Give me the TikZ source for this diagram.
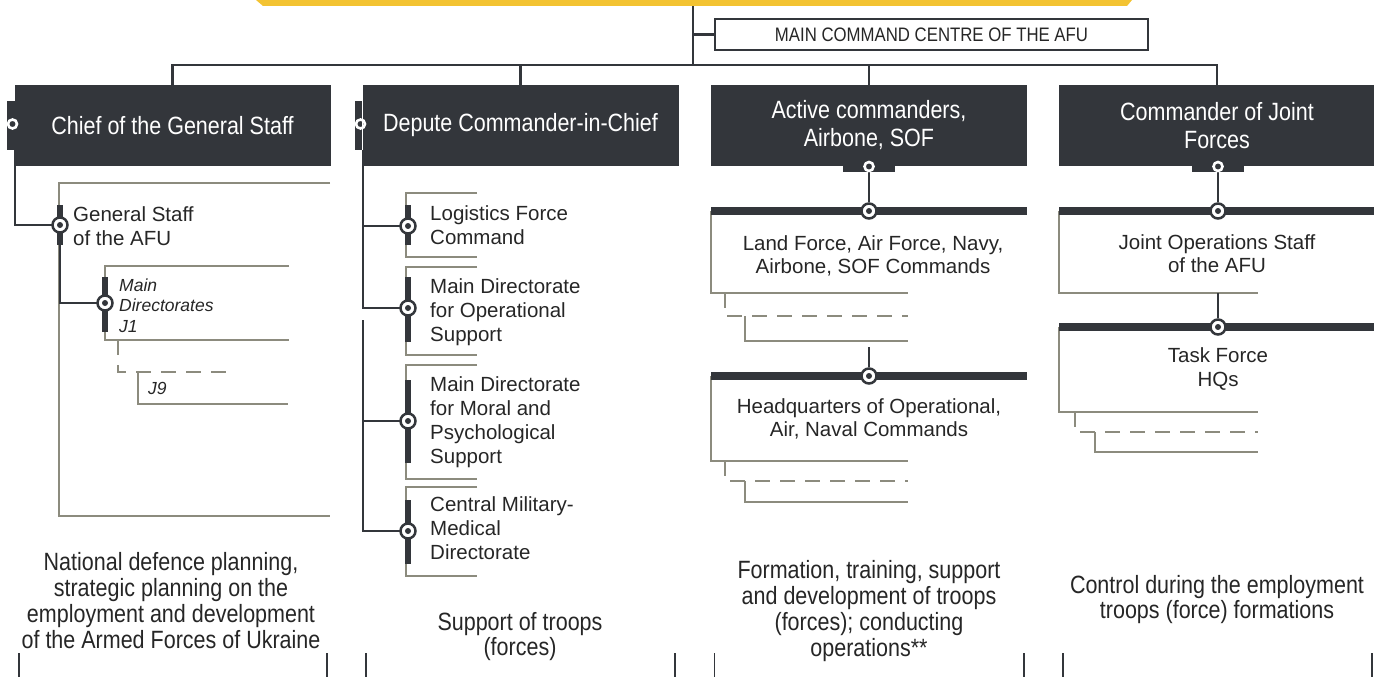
\documentclass[tikz,border=0pt]{standalone}
\usepackage{fontspec}
\setmainfont{Liberation Sans}
\newfontfamily\condfont[FakeStretch=0.86]{Liberation Sans}
\usetikzlibrary{backgrounds}

\definecolor{darkbox}{HTML}{33363B}
\definecolor{linegray}{HTML}{8C8B7E}
\definecolor{baryellow}{HTML}{F3C332}
\definecolor{txt}{HTML}{262626}

\tikzset{
  head/.style={rectangle, fill=darkbox, text=white, minimum width=316pt, minimum height=81pt,
    inner sep=0pt, align=center, font=\condfont\fontsize{25}{28}\selectfont},
  ccbox/.style={rectangle, draw=darkbox, line width=2pt, fill=white, minimum width=433pt,
    minimum height=31pt, inner sep=0pt, text=txt, font=\condfont\fontsize{19.5}{21}\selectfont},
  hring/.style={circle, draw=white, line width=2.6pt, minimum size=9pt, inner sep=0pt},
  tgt/.style={circle, draw=darkbox, fill=white, line width=2.5pt, minimum size=15pt, inner sep=0pt,
    path picture={\fill[darkbox] (path picture bounding box.center) circle (3pt);}},
  unit/.style={anchor=west, align=left, inner sep=0pt, text=txt, font=\fontsize{20.5}{24}\selectfont},
  subunit/.style={anchor=west, align=left, inner sep=0pt, text=txt, font=\itshape\fontsize{17.5}{20.5}\selectfont},
  cunit/.style={align=center, inner sep=0pt, text=txt, font=\fontsize{20.5}{23}\selectfont},
  desc/.style={align=center, inner sep=0pt, text=txt, font=\condfont\fontsize{25}{26}\selectfont},
  link/.style={draw=darkbox, line width=2.3pt},
  bracket/.style={draw=linegray, line width=2.4pt},
  dashbracket/.style={draw=linegray, line width=2.4pt, dash pattern=on 15pt off 10pt},
  vbar/.style={draw=darkbox, line width=6.5pt},
  hbar/.style={draw=darkbox, line width=8pt},
  tick/.style={draw=darkbox, line width=1.5pt}
}

\begin{document}
\begin{tikzpicture}[x=1pt, y=-1pt]
  \useasboundingbox (0,0) rectangle (1374,677);

  % banner and command centre
  \fill[baryellow] (256,0) -- (1132,0) -- (1127,6) -- (263,6) -- cycle;
  \coordinate (trunk) at (693,6);
  \coordinate (hub)   at (693,65);
  \node[ccbox] (mcc) at (931.5,34.5) {MAIN COMMAND CENTRE OF THE AFU};

  % heads
  \fill[darkbox] (7,101) rectangle (15,150);
  \fill[darkbox] (355,101) rectangle (362,150);
  \fill[darkbox] (843,166) rectangle (895,172);
  \fill[darkbox] (1192,166) rectangle (1244,172);
  \node[head] (chief)  at (172.5,125.5) {Chief of the General Staff};
  \node[head] (deputy) at (520.5,125.5) {Depute Commander-in-Chief};
  \node[head] (active) at (869,125.5)   {Active commanders,\\Airbone, SOF};
  \node[head] (joint)  at (1217,125.5)  {Commander of Joint\\Forces};
  \node[hring] (chiefr)  at (12.5,124)  {};
  \node[hring] (deputyr) at (360.5,124) {};
  \node[hring] (activer) at (869,166.5) {};
  \node[hring] (jointr)  at (1218,166.5) {};
  \coordinate (chieftab)  at (15,150);
  \coordinate (deputytab) at (363,150);

  % general staff column
  \node[tgt] (gsr) at (60,225) {};
  \node[tgt] (mdr) at (105,303) {};
  \node[unit]    (gstext) at (73,226.5)  {General Staff\\of the AFU};
  \node[subunit] (mdtext) at (119,305.5) {Main\\Directorates\\J1};
  \node[subunit] (j9text) at (148,388.5) {J9};

  % deputy column
  \node[tgt] (lfcr)   at (408,226) {};
  \node[tgt] (mdosr)  at (408,308) {};
  \node[tgt] (mdmpsr) at (408,421) {};
  \node[tgt] (cmmdr)  at (408,531) {};
  \coordinate (deputygap) at (363,320);
  \node[unit] (lfctext)   at (430,225.5) {Logistics Force\\Command};
  \node[unit] (mdostext)  at (430,312)   {Main Directorate\\for Operational\\Support};
  \node[unit] (mdmpstext) at (430,422.5) {Main Directorate\\for Moral and\\Psychological\\Support};
  \node[unit] (cmmdtext)  at (430,528)   {Central Military-\\Medical\\Directorate};

  % active commanders column
  \node[tgt] (lfr) at (869,211) {};
  \node[tgt] (hqr) at (869,376) {};
  \coordinate (activegap) at (869,347);
  \node[cunit] (lftext) at (873,255.5) {Land Force, Air Force, Navy,\\Airbone, SOF Commands};
  \node[cunit] (hqtext) at (869,419)   {Headquarters of Operational,\\Air, Naval Commands};

  % joint forces column
  \node[tgt] (josr) at (1218,211) {};
  \node[tgt] (tfr)  at (1218,327) {};
  \coordinate (jointgap) at (1218,293);
  \node[cunit] (jostext) at (1217,253.5) {Joint Operations Staff\\of the AFU};
  \node[cunit, font=\fontsize{20.5}{24}\selectfont] (tftext) at (1218,369) {Task Force\\HQs};

  % tasks
  \node[desc] (chiefdesc)  at (171,601) {National defence planning,\\strategic planning on the\\employment and development\\of the Armed Forces of Ukraine};
  \node[desc, font=\condfont\fontsize{25}{25}\selectfont] (deputydesc) at (520,637) {Support of troops\\(forces)};
  \node[desc, font=\condfont\fontsize{25}{25.7}\selectfont] (activedesc) at (869,611) {Formation, training, support\\and development of troops\\(forces); conducting\\operations**};
  \node[desc, font=\condfont\fontsize{25}{25}\selectfont] (jointdesc)  at (1217,600) {Control during the employment\\troops (force) formations};
  \draw[tick] (19,653) -- (19,677) (327,653) -- (327,677)
              (366,653) -- (366,677) (675,653) -- (675,677)
              (714.5,653) -- (714.5,677) (1024,653) -- (1024,677)
              (1063,653) -- (1063,677) (1372,653) -- (1372,677);

  \begin{scope}[on background layer]
    % gray brackets
    \draw[bracket] (330,183) -| (59,516) -- (330,516);
    \draw[bracket] (289,266) -| (105,340) -- (289,340);
    \draw[dashbracket] (118,340) |- (229,372);
    \draw[bracket] (138,372) |- (288,404);
    \draw[bracket] (477,193) -| (406,257) -- (477,257);
    \draw[bracket] (477,267) -| (406,355) -- (477,355);
    \draw[bracket] (477,365) -| (406,479) -- (477,479);
    \draw[bracket] (477,487) -| (406,576) -- (477,576);
    \draw[bracket] (711,211) |- (908,293);
    \draw[dashbracket] (725,293) |- (908,316);
    \draw[bracket] (745,316) |- (908,341);
    \draw[bracket] (711,376) |- (908,461);
    \draw[dashbracket] (725,461) |- (908,481);
    \draw[bracket] (745,481) |- (908,502);
    \draw[bracket] (1059,211) |- (1258,293);
    \draw[bracket] (1059,327) |- (1258,412);
    \draw[dashbracket] (1075,412) |- (1258,432);
    \draw[bracket] (1095,432) |- (1258,452);
    % bars
    \draw[vbar] (60,205) -- (60,245);
    \draw[vbar] (105,277) -- (105,332);
    \draw[vbar] (408,205) -- (408,245);
    \draw[vbar] (408,277) -- (408,342);
    \draw[vbar] (408,380) -- (408,463);
    \draw[vbar] (408,500) -- (408,564);
    \draw[hbar] (711,211) -- (1027,211);
    \draw[hbar] (711,376) -- (1027,376);
    \draw[hbar] (1059,211) -- (1374,211);
    \draw[hbar] (1059,327) -- (1374,327);
    % tree
    \draw[link] (trunk) -- (hub);
    \draw[link] (hub |- mcc.west) -- (mcc.west);
    \draw[link] (chief.north) |- (hub) -| (joint.north);
    \draw[link] (deputy.north) -- (deputy.north |- hub);
    \draw[link] (active.north) -- (active.north |- hub);
    \draw[link] (chieftab) |- (gsr.center);
    \draw[link] (gsr.center) |- (mdr.center);
    \draw[link] (deputytab) |- (lfcr.center);
    \draw[link] (deputytab) |- (mdosr.center);
    \draw[link] (deputygap) |- (mdmpsr.center);
    \draw[link] (deputygap) |- (cmmdr.center);
    \draw[link] (activer) -- (lfr);
    \draw[link] (activegap) -- (hqr);
    \draw[link] (jointr) -- (josr);
    \draw[link] (jointgap) -- (tfr);
  \end{scope}
\end{tikzpicture}
\end{document}
